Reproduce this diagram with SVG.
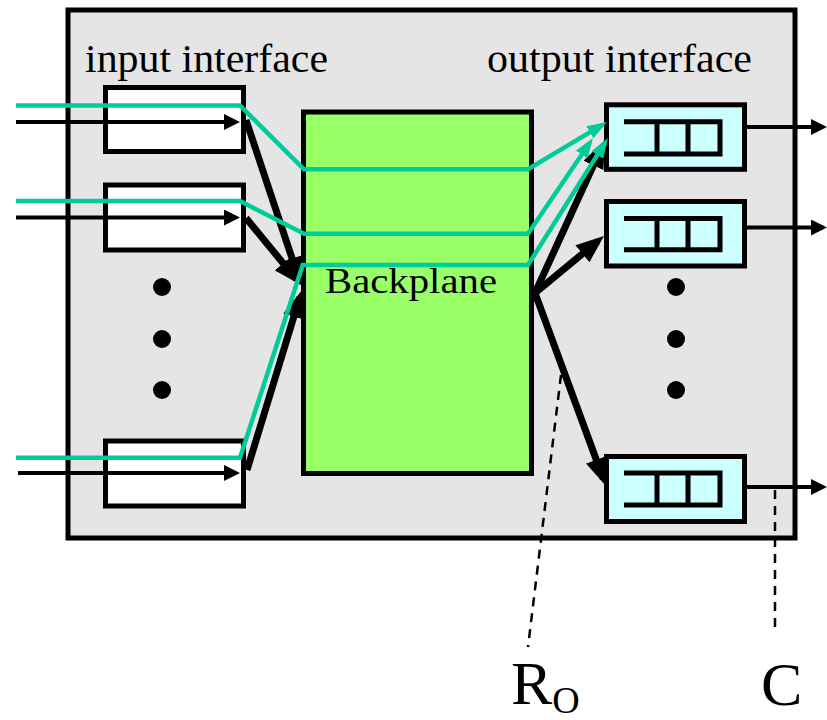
<svg xmlns="http://www.w3.org/2000/svg" width="827" height="720" viewBox="0 0 827 720">
<style>
.box{stroke:#000;stroke-width:5}
.in{fill:#fff}
.out{fill:#ccffff}
.q{fill:none;stroke:#000;stroke-width:5}
.txt{font-family:"Liberation Serif","Times New Roman",serif;fill:#000}
.thin{stroke:#000;stroke-width:4;fill:none}
.thick{stroke:#000;stroke-width:7;fill:none}
.grn{stroke:#00cc99;stroke-width:4.5;fill:none;stroke-linejoin:miter}
.dash{stroke:#000;stroke-width:2.5;stroke-dasharray:9,7;fill:none}
</style>
<defs>
<marker id="mThin" markerUnits="userSpaceOnUse" viewBox="0 0 16 16" markerWidth="16" markerHeight="16" refX="12" refY="8" orient="auto"><path d="M0,0L16,8L0,16z" fill="#000"/></marker>
<marker id="mThick" markerUnits="userSpaceOnUse" viewBox="0 0 28 22" markerWidth="28" markerHeight="22" refX="20" refY="11" orient="auto"><path d="M0,0L28,11L0,22z" fill="#000"/></marker>
<marker id="mGrn" markerUnits="userSpaceOnUse" viewBox="0 0 20 14" markerWidth="20" markerHeight="14" refX="14" refY="7" orient="auto"><path d="M0,0L20,7L0,14z" fill="#00cc99"/></marker>
</defs>
<rect width="827" height="720" fill="#fff"/>
<g id="router">
<rect x="68" y="10" width="727" height="528" fill="#e5e5e5" stroke="#000" stroke-width="5"/>
<text class="txt" x="85" y="72" font-size="41" textLength="243" lengthAdjust="spacingAndGlyphs">input interface</text>
<text class="txt" x="487" y="72" font-size="41" textLength="265" lengthAdjust="spacingAndGlyphs">output interface</text>
</g>
<g id="in1"><rect class="box in" x="105.5" y="87.5" width="138" height="64"/></g>
<g id="in2"><rect class="box in" x="105.5" y="185" width="138" height="65"/></g>
<g id="in3"><rect class="box in" x="105.5" y="441" width="138" height="65"/></g>
<g id="in-dots"><circle cx="162" cy="287" r="9"/><circle cx="162" cy="339" r="9"/><circle cx="162" cy="390" r="9"/></g>
<g id="backplane">
<rect x="303.5" y="112" width="228" height="361.5" fill="#99ff66" stroke="#000" stroke-width="5"/>
<text class="txt" x="325" y="293" font-size="36" textLength="172" lengthAdjust="spacingAndGlyphs">Backplane</text>
</g>
<g id="out1"><rect class="box out" x="606.5" y="104.8" width="138" height="64.5"/><path class="q" d="M624,121.8H720V154H624M657,121.8V154M688,121.8V154"/></g>
<g id="out2"><rect class="box out" x="606.5" y="201.5" width="138" height="64.5"/><path class="q" d="M624,218.5H720V249.7H624M657,218.5V249.7M688,218.5V249.7"/></g>
<g id="out3"><rect class="box out" x="606.5" y="456.5" width="138" height="65"/><path class="q" d="M624,473H720V505H624M657,473V505M688,473V505"/></g>
<g id="out-dots"><circle cx="676" cy="287" r="9"/><circle cx="676" cy="339" r="9"/><circle cx="676" cy="390" r="9"/></g>
<g id="connectors">
<line class="thin" x1="16" y1="122" x2="236" y2="122" marker-end="url(#mThin)"/>
<line class="thin" x1="16" y1="217.5" x2="236" y2="217.5" marker-end="url(#mThin)"/>
<line class="thin" x1="18" y1="473" x2="236" y2="473" marker-end="url(#mThin)"/>
<line class="thick" x1="246" y1="120" x2="298.4" y2="277.4" marker-end="url(#mThick)"/>
<line class="thick" x1="246" y1="218" x2="295.9" y2="278.8" marker-end="url(#mThick)"/>
<line class="thick" x1="247" y1="470" x2="299.7" y2="297.6" marker-end="url(#mThick)"/>
<line class="thick" x1="535" y1="293" x2="601.7" y2="147.3" marker-end="url(#mThick)"/>
<line class="thick" x1="535" y1="293" x2="597.8" y2="241.1" marker-end="url(#mThick)"/>
<line class="thick" x1="535" y1="293" x2="603.2" y2="478.5" marker-end="url(#mThick)"/>
<line class="thin" x1="746" y1="127" x2="823" y2="127" marker-end="url(#mThin)"/>
<line class="thin" x1="746" y1="227.5" x2="823" y2="227.5" marker-end="url(#mThin)"/>
<line class="thin" x1="746" y1="487" x2="823" y2="487" marker-end="url(#mThin)"/>
<polyline class="grn" points="16,105.5 240,105.5 304,169.3 528,169.3 601.9,125.1" marker-end="url(#mGrn)"/>
<polyline class="grn" points="16,201 240,201 304,233.7 528,233.7 589.6,143" marker-end="url(#mGrn)"/>
<polyline class="grn" points="16,457.7 240,457.7 302.7,265 528,265 604.8,143.1" marker-end="url(#mGrn)"/>
<line class="dash" x1="561" y1="375" x2="528" y2="647"/>
<line class="dash" x1="775" y1="490" x2="775" y2="631"/>
</g>
<g id="labels">
<text class="txt" x="511" y="704" font-size="62">R<tspan font-size="38" dy="9">O</tspan></text>
<text class="txt" x="761" y="705" font-size="62">C</text>
</g>
</svg>
